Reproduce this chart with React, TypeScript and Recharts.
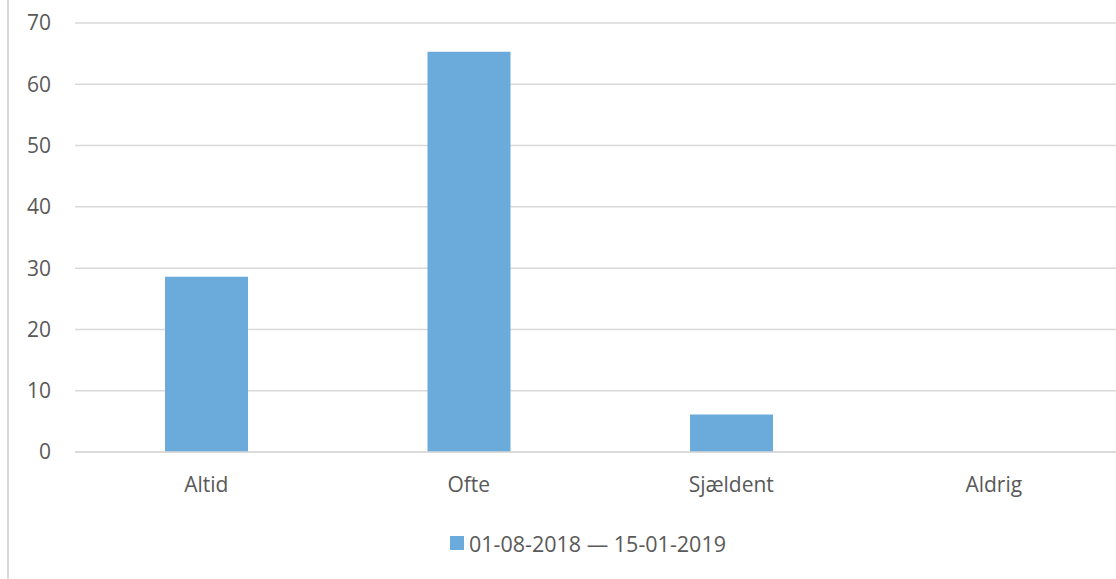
import { BarChart, Bar, XAxis, YAxis, CartesianGrid, Legend } from 'recharts';

const categories = ['Altid', 'Ofte', 'Sjældent', 'Aldrig'];
const values = [28.6, 65.3, 6.1, 0];
const yTicks = [0, 10, 20, 30, 40, 50, 60, 70];
const seriesName = '01-08-2018 — 15-01-2019';

const BLUE = '#6aabdc';
const GRID = '#d9d9d9';
const TEXT = '#595959';
const FONT = '"Open Sans", sans-serif';

const data = categories.map((c, i) => ({ category: c, value: values[i] }));

function LegendBox() {
  return (
    <div
      style={{
        height: 40,
        display: 'flex',
        alignItems: 'center',
        justifyContent: 'center',
        fontFamily: FONT,
        fontSize: 21.5,
        color: TEXT,
        paddingLeft: 51,
      }}
    >
      <span style={{ width: 14, height: 14, background: BLUE, marginRight: 5, display: 'inline-block' }} />
      {seriesName}
    </div>
  );
}

export default function App() {
  return (
    <div
      style={{
        position: 'fixed',
        left: 0,
        top: 0,
        width: 1116,
        height: 579,
        overflow: 'hidden',
        background: '#fff',
      }}
    >
      <div style={{ position: 'absolute', left: 7, top: 0, width: 2, height: 579, background: GRID }} />
      <BarChart
        width={1125}
        height={579}
        data={data}
        margin={{ top: 23, right: 0, bottom: 16, left: 0 }}
      >
        <CartesianGrid vertical={false} stroke={GRID} strokeWidth={1.5} />
        <XAxis
          dataKey="category"
          axisLine={{ stroke: GRID, strokeWidth: 1.5 }}
          tickLine={false}
          height={71}
          tickMargin={19}
          tick={{ fill: TEXT, fontSize: 21, fontFamily: FONT }}
          interval={0}
        />
        <YAxis
          width={75}
          domain={[0, 70]}
          ticks={yTicks}
          axisLine={false}
          tickLine={false}
          tickMargin={18}
          tick={{ fill: TEXT, fontSize: 21, fontFamily: FONT }}
        />
        <Legend verticalAlign="bottom" content={() => <LegendBox />} />
        <Bar dataKey="value" name={seriesName} fill={BLUE} barSize={83} isAnimationActive={false} />
      </BarChart>
    </div>
  );
}
